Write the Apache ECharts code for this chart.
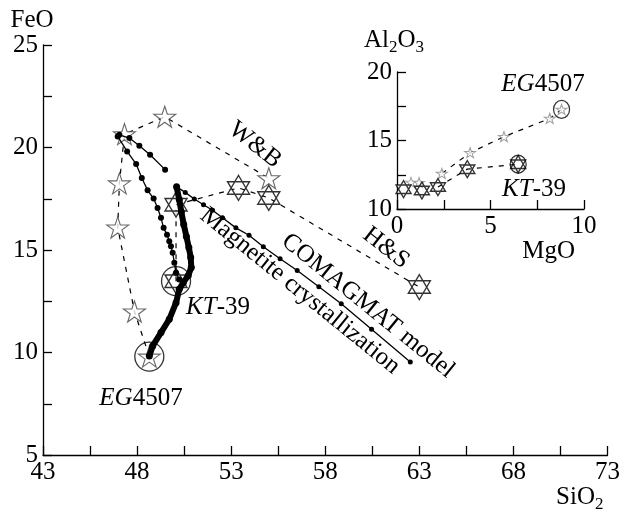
<!DOCTYPE html>
<html><head><meta charset="utf-8">
<script src="https://cdn.jsdelivr.net/npm/echarts@6/dist/echarts.min.js"></script>
<style>html,body{margin:0;padding:0;background:#fff}#c{width:623px;height:513px}</style>
</head><body><div id="c"></div>
<script>
// ---- Main panel: SiO2 (x) vs FeO (y) ----
const mainXTicks = [43,45.5,48,50.5,53,55.5,58,60.5,63,65.5,68,70.5,73];
const mainXLabels = [43,48,53,58,63,68,73];
const mainYTicks = [5,7.5,10,12.5,15,17.5,20,22.5,25];
const mainYLabels = [5,10,15,20,25];

const wbStars = [[48.65,9.8],[47.86,12.0],[46.97,16.1],[47.06,18.25],[47.33,20.65],[49.47,21.5],[55.0,18.5]];
const hsHexagrams = [[50.07,13.48],[50.07,17.21],[53.39,18.03],[55.0,17.54],[63.0,13.19]];
const modelShort = [[47.06,20.62],[47.59,20.46],[48.12,20.09],[48.69,19.65],[49.49,18.92]];
const modelLeft = [[46.97,20.54],[47.47,19.81],[47.95,19.19],[48.25,18.51],[48.56,17.91],[48.88,17.51],[49.09,17.05],[49.27,16.57],[49.41,16.08],[49.59,15.75],[49.71,15.43],[49.80,15.18],[49.89,14.86],[49.98,14.38],[50.07,13.89],[50.24,13.56]];
const modelThick = [[50.10,18.08],[50.24,17.46],[50.35,16.87],[50.48,16.24],[50.62,15.66],[50.75,15.12],[50.85,14.64],[50.88,14.15],[50.72,13.76],[50.46,13.42],[50.24,13.08],[50.07,12.43],[49.71,11.62],[49.27,10.97],[48.83,10.32],[48.65,9.83]];
const modelLong = [[50.10,18.08],[50.56,17.81],[51.04,17.49],[51.53,17.21],[52.01,16.94],[52.54,16.57],[53.25,16.08],[53.95,15.72],[54.71,15.16],[55.60,14.57],[56.51,14.00],[57.66,13.21],[58.85,12.38],[60.46,11.13],[62.52,9.54]];
const mainSamples = [[48.65,9.8],[50.07,13.48]]; // EG4507, KT-39

// ---- Inset: MgO (x) vs Al2O3 (y) ----
const insetXTicks = [0,2.5,5,7.5,10];
const insetXLabels = [0,5,10];
const insetYTicks = [10,12.5,15,17.5,20];
const insetYLabels = [10,15,20];
const insetStars = [[0.75,11.95],[1.18,11.93],[2.40,12.6],[3.91,14.11],[5.72,15.28],[8.17,16.61],[8.80,17.27]];
const insetHexagrams = [[0.35,11.45],[1.33,11.35],[2.19,11.6],[3.76,12.91],[6.48,13.27]];
const insetStarTrend = [[2.40,12.6],[3.91,14.11],[5.72,15.28],[8.17,16.61],[8.80,17.27]];
const insetHexTrend = [[2.19,11.6],[3.76,12.91],[6.48,13.27]];
const insetSamples = [[8.80,17.27],[6.48,13.27]]; // EG4507, KT-39

const FONT = 'Liberation Serif';
const FS = 25;
const STAR = 'path://M50 0 L61.23 34.55 L97.55 34.55 L68.17 55.9 L79.39 90.45 L50 69.1 L20.61 90.45 L31.83 55.9 L2.45 34.55 L38.77 34.55 Z';
const HEX = 'path://M50 0 L93.3 75 L6.7 75 Z M50 100 L93.3 25 L6.7 25 Z';

function axis(gridIndex, min, max, ticks, labels, extra) {
  return Object.assign({
    type: 'value', gridIndex, min, max,
    axisLine: {show: true, onZero: false, lineStyle: {color: '#000', width: 1.3}},
    axisTick: {show: true, inside: true, length: 9, customValues: ticks, lineStyle: {color: '#000', width: 1.3}},
    axisLabel: {customValues: labels, color: '#000', fontFamily: FONT, fontSize: FS, margin: 5},
    splitLine: {show: false}
  }, extra || {});
}

const subRich = {
  b: {fontFamily: FONT, fontSize: FS, color: '#000', lineHeight: 28, verticalAlign: 'top'},
  s: {fontFamily: FONT, fontSize: 17, color: '#000', lineHeight: 17, verticalAlign: 'bottom'}
};
const labRich = {
  i: {fontFamily: FONT, fontStyle: 'italic', fontSize: FS, fill: '#000'},
  n: {fontFamily: FONT, fontSize: FS, fill: '#000'}
};

const chart = echarts.init(document.getElementById('c'));
chart.setOption({
  backgroundColor: '#fff',
  animation: false,
  grid: [
    {left: 43, top: 45, width: 566, height: 411},
    {left: 397, top: 72, width: 187, height: 137}
  ],
  xAxis: [
    axis(0, 43, 73, mainXTicks, mainXLabels, {
      name: '{b|SiO}{s|2}', nameLocation: 'end', nameGap: -4,
      nameTextStyle: {align: 'right', verticalAlign: 'top', padding: [30, 0, 0, 0], rich: subRich}
    }),
    axis(1, 0, 10, insetXTicks, insetXLabels, {
      name: 'MgO', nameLocation: 'end', nameGap: -9,
      nameTextStyle: {fontFamily: FONT, fontSize: FS, color: '#000', align: 'right', verticalAlign: 'top', padding: [30, 0, 0, 0]}
    })
  ],
  yAxis: [
    axis(0, 5, 25, mainYTicks, mainYLabels, {
      name: 'FeO', nameLocation: 'end', nameGap: 5,
      nameTextStyle: {fontFamily: FONT, fontSize: FS, color: '#000', align: 'center', padding: [0, 22, 0, 0]}
    }),
    axis(1, 10, 20, insetYTicks, insetYLabels, {
      name: '{b|Al}{s|2}{b|O}{s|3}', nameLocation: 'end', nameGap: 16,
      nameTextStyle: {align: 'center', padding: [0, 6, 0, 0], rich: subRich}
    })
  ],
  series: [
    // dashed trends (main)
    {type: 'line', name: 'W&B', xAxisIndex: 0, yAxisIndex: 0, data: wbStars, showSymbol: false, symbol: 'none',
     lineStyle: {color: '#000', width: 1.2, type: [5, 6]}, z: 2},
    {type: 'line', name: 'H&S', xAxisIndex: 0, yAxisIndex: 0, data: hsHexagrams, showSymbol: false, symbol: 'none',
     lineStyle: {color: '#000', width: 1.2, type: [5, 6]}, z: 2},
    // markers (main)
    {type: 'scatter', xAxisIndex: 0, yAxisIndex: 0, data: wbStars, symbol: STAR, symbolSize: [22, 21],
     itemStyle: {color: '#fff', borderColor: '#444', borderWidth: 1.1}, z: 3},
    {type: 'scatter', xAxisIndex: 0, yAxisIndex: 0, data: hsHexagrams, symbol: HEX, symbolSize: [22, 25],
     itemStyle: {color: '#fff', borderColor: '#000', borderWidth: 1.4}, z: 3},
    // COMAGMAT model lines
    {type: 'line', name: 'COMAGMAT model', xAxisIndex: 0, yAxisIndex: 0, data: modelShort, symbol: 'circle', symbolSize: 6,
     itemStyle: {color: '#000'}, lineStyle: {color: '#000', width: 1.3}, z: 4},
    {type: 'line', xAxisIndex: 0, yAxisIndex: 0, data: modelLeft, symbol: 'circle', symbolSize: 6,
     itemStyle: {color: '#000'}, lineStyle: {color: '#000', width: 1.3}, z: 4},
    {type: 'line', xAxisIndex: 0, yAxisIndex: 0, data: modelThick, symbol: 'circle', symbolSize: 7,
     itemStyle: {color: '#000'}, lineStyle: {color: '#000', width: 6, join: 'round'}, z: 4},
    {type: 'line', xAxisIndex: 0, yAxisIndex: 0, data: modelLong, symbol: 'circle', symbolSize: 5,
     itemStyle: {color: '#000'}, lineStyle: {color: '#000', width: 1.3}, z: 4},
    // sample circles (main)
    {type: 'scatter', xAxisIndex: 0, yAxisIndex: 0, data: mainSamples, symbol: 'circle', symbolSize: 29,
     itemStyle: {color: 'rgba(0,0,0,0)', borderColor: '#000', borderWidth: 1.3}, z: 5},
    // inset
    {type: 'line', xAxisIndex: 1, yAxisIndex: 1, data: insetStarTrend, showSymbol: false, symbol: 'none',
     lineStyle: {color: '#000', width: 1.2, type: [5, 6]}, z: 2},
    {type: 'line', xAxisIndex: 1, yAxisIndex: 1, data: insetHexTrend, showSymbol: false, symbol: 'none',
     lineStyle: {color: '#000', width: 1.2, type: [5, 6]}, z: 2},
    {type: 'scatter', xAxisIndex: 1, yAxisIndex: 1, data: insetStars, symbol: STAR, symbolSize: [11, 10],
     itemStyle: {color: '#fff', borderColor: '#888', borderWidth: 1}, z: 3},
    {type: 'scatter', xAxisIndex: 1, yAxisIndex: 1, data: insetHexagrams, symbol: HEX, symbolSize: [15, 17],
     itemStyle: {color: '#fff', borderColor: '#000', borderWidth: 1.4}, z: 4},
    {type: 'scatter', xAxisIndex: 1, yAxisIndex: 1, data: insetSamples, symbol: 'circle', symbolSize: [16, 18],
     itemStyle: {color: 'rgba(0,0,0,0)', borderColor: '#000', borderWidth: 1.3}, z: 5}
  ],
  graphic: [
    {type: 'text', x: 255, y: 145, rotation: -38 * Math.PI / 180,
     style: {text: 'W&B', font: '25px "Liberation Serif"', fill: '#000', align: 'center', verticalAlign: 'middle'}},
    {type: 'text', x: 386, y: 248, rotation: -38 * Math.PI / 180,
     style: {text: 'H&S', font: '25px "Liberation Serif"', fill: '#000', align: 'center', verticalAlign: 'middle'}},
    {type: 'text', x: 368, y: 306, rotation: -39 * Math.PI / 180,
     style: {text: 'COMAGMAT model', font: '25px "Liberation Serif"', fill: '#000', align: 'center', verticalAlign: 'middle'}},
    {type: 'text', x: 300, y: 291, rotation: -39 * Math.PI / 180,
     style: {text: 'Magnetite crystallization', font: '25px "Liberation Serif"', fill: '#000', align: 'center', verticalAlign: 'middle'}},
    {type: 'text', x: 141, y: 398,
     style: {text: '{i|EG}{n|4507}', align: 'center', verticalAlign: 'middle', rich: labRich}},
    {type: 'text', x: 218, y: 307,
     style: {text: '{i|KT}{n|-39}', align: 'center', verticalAlign: 'middle', rich: labRich}},
    {type: 'text', x: 543, y: 84,
     style: {text: '{i|EG}{n|4507}', align: 'center', verticalAlign: 'middle', rich: labRich}},
    {type: 'text', x: 534, y: 189,
     style: {text: '{i|KT}{n|-39}', align: 'center', verticalAlign: 'middle', rich: labRich}}
  ]
});
</script></body></html>
